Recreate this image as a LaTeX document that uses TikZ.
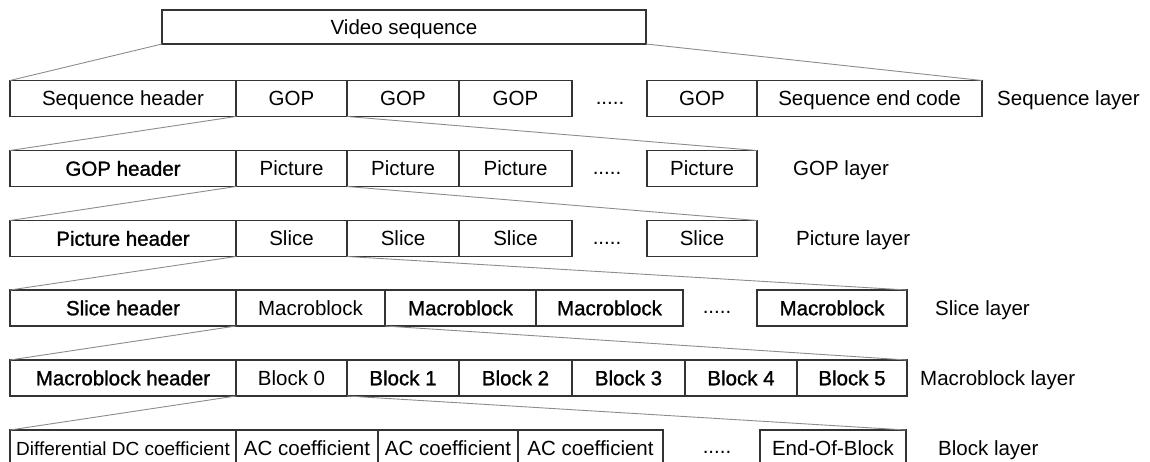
\documentclass[tikz,border=0pt]{standalone}
\usepackage{fontspec}
\setmainfont{Liberation Sans}
\usepackage{tikz}
\usetikzlibrary{positioning}

\begin{document}
\begin{tikzpicture}[x=1pt, y=-1pt,
    cell/.style={draw=black!80, line width=1.1pt, minimum height=36pt, inner sep=0pt, outer sep=0pt,
        anchor=west, text height=14.5pt, text depth=0pt, font=\fontsize{20.5}{24}\selectfont},
    heavy/.style={font=\fontsize{20.5}{24}\selectfont\addfontfeatures{FakeBold=1.2}},
    layer/.style={anchor=west, inner sep=0pt, text height=14.5pt, text depth=0pt, font=\fontsize{20.5}{24}\selectfont},
    gap/.style={inner sep=0pt, font=\fontsize{20.5}{24}\selectfont},
    link/.style={draw=black!45, line width=0.9pt}]
    \useasboundingbox (0,0) rectangle (1150,461);
    \clip (0,0) rectangle (1150,461);

    % Video sequence
    \node[cell, minimum width=484pt, minimum height=34pt] (video) at (162,27) {Video sequence};

    % Sequence layer
    \node[cell, minimum width=226pt] (seqhdr) at (10,98.5) {Sequence header};
    \node[cell, minimum width=111pt, right=0pt of seqhdr] (gopA) {GOP};
    \node[cell, minimum width=112pt, right=0pt of gopA] (gopB) {GOP};
    \node[cell, minimum width=113pt, right=0pt of gopB] (gopC) {GOP};
    \node[gap] (seqdots) at (610,103) {.....};
    \node[cell, minimum width=110pt] (gopN) at (647,98.5) {GOP};
    \node[cell, minimum width=225pt, right=0pt of gopN] (seqend) {Sequence end code};
    \node[layer] (seqlab) at (997,98.5) {Sequence layer};

    % GOP layer
    \node[cell, heavy, minimum width=226pt] (gophdr) at (10,168.5) {GOP header};
    \node[cell, minimum width=111pt, right=0pt of gophdr] (picA) {Picture};
    \node[cell, minimum width=112pt, right=0pt of picA] (picB) {Picture};
    \node[cell, minimum width=113pt, right=0pt of picB] (picC) {Picture};
    \node[gap] (gopdots) at (607,173) {.....};
    \node[cell, minimum width=110pt] (picN) at (647,168.5) {Picture};
    \node[layer] (goplab) at (793,168.5) {GOP layer};

    % Picture layer
    \node[cell, heavy, minimum width=226pt] (pichdr) at (10,238.5) {Picture header};
    \node[cell, minimum width=111pt, right=0pt of pichdr] (slcA) {Slice};
    \node[cell, minimum width=112pt, right=0pt of slcA] (slcB) {Slice};
    \node[cell, minimum width=113pt, right=0pt of slcB] (slcC) {Slice};
    \node[gap] (picdots) at (607,243) {.....};
    \node[cell, minimum width=110pt] (slcN) at (647,238.5) {Slice};
    \node[layer] (piclab) at (796,238.5) {Picture layer};

    % Slice layer
    \node[cell, heavy, minimum width=226pt] (slchdr) at (10,308) {Slice header};
    \node[cell, minimum width=149pt, right=0pt of slchdr] (mbA) {Macroblock};
    \node[cell, heavy, minimum width=151pt, right=0pt of mbA] (mbB) {Macroblock};
    \node[cell, heavy, minimum width=147pt, right=0pt of mbB] (mbC) {Macroblock};
    \node[gap] (slcdots) at (717,312.5) {.....};
    \node[cell, heavy, minimum width=150pt] (mbN) at (757,308) {Macroblock};
    \node[layer] (slclab) at (935,308) {Slice layer};

    % Macroblock layer
    \node[cell, heavy, minimum width=226pt] (mbhdr) at (10,378) {Macroblock header};
    \node[cell, minimum width=111pt, right=0pt of mbhdr] (blk0) {Block 0};
    \node[cell, heavy, minimum width=112pt, right=0pt of blk0] (blk1) {Block 1};
    \node[cell, heavy, minimum width=113pt, right=0pt of blk1] (blk2) {Block 2};
    \node[cell, heavy, minimum width=113pt, right=0pt of blk2] (blk3) {Block 3};
    \node[cell, heavy, minimum width=112pt, right=0pt of blk3] (blk4) {Block 4};
    \node[cell, heavy, minimum width=110pt, right=0pt of blk4] (blk5) {Block 5};
    \node[layer] (mblab) at (920,378) {Macroblock layer};

    % Block layer
    \node[cell, minimum width=226pt, font=\fontsize{19}{23}\selectfont] (dc) at (10,448) {Differential DC coefficient};
    \node[cell, minimum width=142pt, right=0pt of dc] (acA) {AC coefficient};
    \node[cell, minimum width=140pt, right=0pt of acA] (acB) {AC coefficient};
    \node[cell, minimum width=145pt, right=0pt of acB] (acC) {AC coefficient};
    \node[gap] (blkdots) at (717,452.5) {.....};
    \node[cell, minimum width=146pt] (eob) at (760,448) {End-Of-Block};
    \node[layer] (blklab) at (938,448) {Block layer};

    % Fan-out lines between layers
    \draw[link] (video.south west) -- (seqhdr.north west);
    \draw[link] (video.south east) -- (seqend.north east);
    \draw[link] (gopA.south west) -- (gophdr.north west);
    \draw[link] (gopA.south east) -- (picN.north east);
    \draw[link] (picA.south west) -- (pichdr.north west);
    \draw[link] (picA.south east) -- (slcN.north east);
    \draw[link] (slcA.south west) -- (slchdr.north west);
    \draw[link] (slcA.south east) -- (mbN.north east);
    \draw[link] (mbA.south west) -- (mbhdr.north west);
    \draw[link] (mbA.south east) -- (blk5.north east);
    \draw[link] (blk0.south west) -- (dc.north west);
    \draw[link] (blk0.south east) -- (eob.north east);
\end{tikzpicture}
\end{document}
